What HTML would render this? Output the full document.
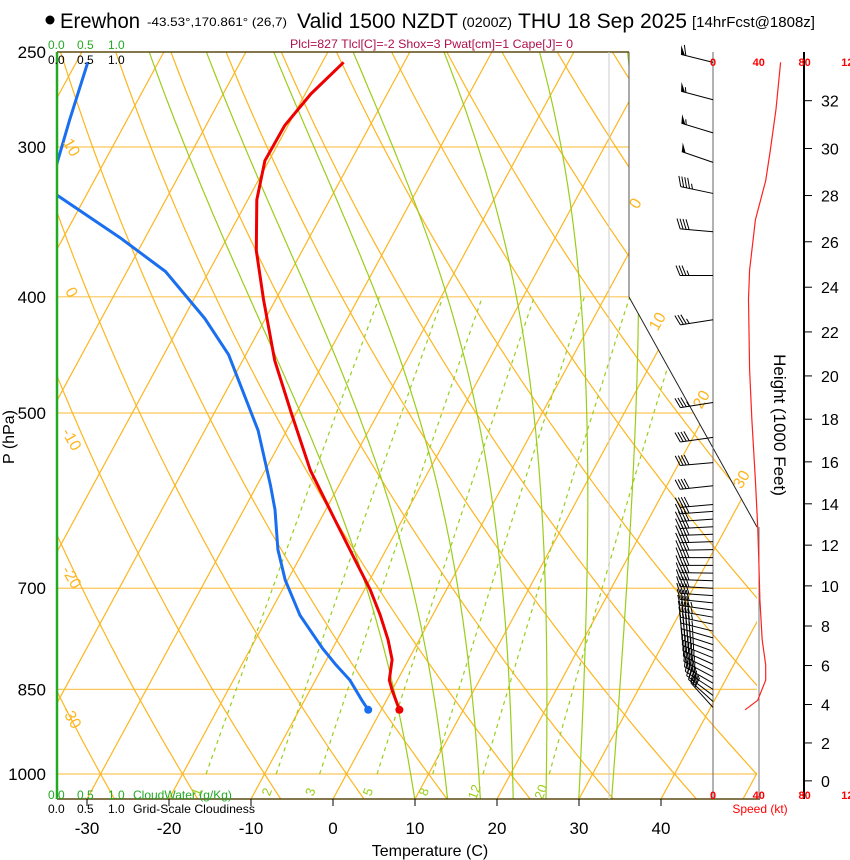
<!DOCTYPE html>
<html><head><meta charset="utf-8"><style>
html,body{margin:0;padding:0;background:#fff;overflow:hidden;}
svg{display:block;font-family:"Liberation Sans",sans-serif;}
</style></head><body>
<svg id="chart" width="850" height="860" viewBox="0 0 850 860" xmlns="http://www.w3.org/2000/svg">
<defs><clipPath id="plotclip"><polygon points="57,52 629,52 629,297 757,527 757,799 57,799"/></clipPath>
<clipPath id="plotclip2"><rect x="57" y="52" width="760" height="747"/></clipPath></defs>
<g>
<circle cx="50" cy="20" r="4.5" fill="#000"/>
<text x="60" y="28" font-size="21" textLength="80" lengthAdjust="spacingAndGlyphs">Erewhon</text>
<text x="147" y="26" font-size="12" textLength="140" lengthAdjust="spacingAndGlyphs">-43.53°,170.861° (26,7)</text>
<text x="297" y="28" font-size="21" textLength="161" lengthAdjust="spacingAndGlyphs">Valid 1500 NZDT</text>
<text x="462" y="27" font-size="14" textLength="50" lengthAdjust="spacingAndGlyphs">(0200Z)</text>
<text x="518" y="28" font-size="21" textLength="169" lengthAdjust="spacingAndGlyphs">THU 18 Sep 2025</text>
<text x="692" y="27" font-size="15" textLength="123" lengthAdjust="spacingAndGlyphs">[14hrFcst@1808z]</text>
<text x="290" y="48" font-size="12" fill="#b0104f" textLength="283" lengthAdjust="spacingAndGlyphs">Plcl=827 Tlcl[C]=-2 Shox=3 Pwat[cm]=1 Cape[J]= 0</text>
</g>
<g id="grid" clip-path="url(#plotclip)"></g>
<g id="profiles" clip-path="url(#plotclip2)"></g>
<g id="overlay"></g>
<g font-family="Liberation Sans, sans-serif">
<text x="48" y="49" font-size="12" fill="#22aa22">0.0</text>
<text x="77" y="49" font-size="12" fill="#22aa22">0.5</text>
<text x="108" y="49" font-size="12" fill="#22aa22">1.0</text>
<text x="48" y="64" font-size="12">0.0</text>
<text x="77" y="64" font-size="12">0.5</text>
<text x="108" y="64" font-size="12">1.0</text>
<text x="48" y="799" font-size="12" fill="#22aa22">0.0</text>
<text x="77" y="799" font-size="12" fill="#22aa22">0.5</text>
<text x="108" y="799" font-size="12" fill="#22aa22">1.0</text>
<text x="133" y="799" font-size="12" fill="#22aa22">CloudWater (g/Kg)</text>
<text x="48" y="813" font-size="12">0.0</text>
<text x="77" y="813" font-size="12">0.5</text>
<text x="108" y="813" font-size="12">1.0</text>
<text x="133" y="813" font-size="12" textLength="122" lengthAdjust="spacingAndGlyphs">Grid-Scale Cloudiness</text>
<text x="760" y="813" font-size="12" fill="#ff0000" text-anchor="middle">Speed (kt)</text>
<text x="430" y="856" font-size="16" text-anchor="middle">Temperature (C)</text>
<text x="0" y="0" font-size="16" text-anchor="middle" transform="translate(14,437) rotate(-90)">P (hPa)</text>
<text x="0" y="0" font-size="17" text-anchor="middle" transform="translate(774,425) rotate(90)">Height (1000 Feet)</text>
</g>
</svg>
<script>
// ---- data ----
const pressT=[884,851,835,803,773,737,702,663,614,558,500,452,402,366,332,308,288,271,255];
const tempT=[2.2,0.0,-1.0,-2.0,-3.8,-6.4,-9.3,-13.1,-18.2,-24.5,-30.6,-36.1,-41.5,-45.6,-48.9,-50.5,-50.4,-49.3,-47.4];
const pressTd=[884,868,835,811,785,737,689,650,602,574,517,447,417,381,357,329,320,311,285,255];
const dewTd=[-1.6,-3.0,-5.8,-8.5,-11.3,-16.2,-20.3,-23.2,-26.2,-28.4,-33.5,-42.1,-47.4,-55.3,-63.1,-73.6,-80,-75.6,-77.0,-78.6];
const spdP=[884,868,835,811,773,716,663,622,569,507,460,402,380,345,320,302,279,255];
const spdV=[28,39,46,46,43,41,40,39,37,34,32,31,32,37,46,50,55,59];
const barbP=[255,274,292,309,328,353,384,418,490,524,550,575,596,604,613,622,631,640,650,660,670,680,690,700,710,720,730,740,750,760,770,780,790,800,810,820,830,840,850,860,870,880];
const barbDir=[284,285,287,289,282,275,270,261,261,262,265,264,265,266,266,267,268,268,269,270,270,271,272,273,274,276,278,280,282,284,286,288,290,292,294,296,298,300,303,307,312,318];
const barbSpd=[60,55,55,50,45,40,35,35,35,40,40,40,40,40,40,40,40,40,40,41,41,41,41,41,42,42,43,43,44,45,45,46,46,46,46,46,45,45,44,42,38,30];
const tempTicks=[-30,-20,-10,0,10,20,30,40];
const pressTicks=[250,300,400,500,700,850,1000];
const heightTicks=[0,2,4,6,8,10,12,14,16,18,20,22,24,26,28,30,32];
const mixRatios=[1,2,3,5,8,12,20];
const moistStarts=[10,14,18,22,26,30,34];
const thetaLeftLabels=[10,0,-10,-20,-30];
const thetaRightLabels=[0,10,20,30];
const speedTicks=[0,40,80,120];

// ---- axes ----
const X0=333,S=8.2,SK=0.542,YB=799,Y1000=774,K=520.8;
function yP(p){return Y1000-K*Math.log(1000/p);}
function xTP(T,p){return X0+S*T+(YB-yP(p))*SK;}
function xSpd(v){return 713+v*1.145;}
function pFromH(hft){return 1013.25*Math.pow(1-6.8756e-6*hft,5.2559);}
const NS='http://www.w3.org/2000/svg';
function mk(tag,attrs,parent){const e=document.createElementNS(NS,tag);for(const k in attrs)e.setAttribute(k,attrs[k]);parent.appendChild(e);return e;}
const grid=document.getElementById('grid'),prof=document.getElementById('profiles'),ov=document.getElementById('overlay');
const OR='#fdb620',GR='#9acd1a';
function pts(arr){return arr.map(a=>a[0].toFixed(1)+','+a[1].toFixed(1)).join(' ');}

pressTicks.forEach(p=>{if(p===250)return;
 const l=mk('line',{x1:57,x2:760,y1:yP(p),y2:yP(p),stroke:'#fcc75a','stroke-width':1.2},grid);
 
 
});
for(let T=-110;T<=50;T+=10){
 const l=mk('line',{x1:xTP(T,1050),y1:yP(1050),x2:xTP(T,250),y2:yP(250),stroke:OR,'stroke-width':1.2},grid);
 
 
}
for(let th=233.15;th<=483.15;th+=10){
 const a=[];for(let p=1050;p>=250;p-=10){const T=th*Math.pow(p/1000,0.2857)-273.15;a.push([xTP(T,p),yP(p)]);}
 const l=mk('polyline',{points:pts(a),fill:'none',stroke:OR,'stroke-width':1.2},grid);
 
 
}
function es(T){return 6.112*Math.exp(17.67*T/(T+243.5));}
moistStarts.forEach(T0=>{
 let T=T0+273.15,a=[];const Rd=287,cp=1005,Lv=2.5e6,eps=0.622;
 for(let p=1050;p>=250;p-=2){
  a.push([xTP(T-273.15,p),yP(p)]);
  const e=es(T-273.15),rs=eps*e/(p-e);
  const dTdp=(Rd*T+Lv*rs)/(p*(cp+Lv*Lv*rs*eps/(Rd*T*T)));
  T-=2*dTdp;
 }
 const l=mk('polyline',{points:pts(a),fill:'none',stroke:GR,'stroke-width':1.2},grid);
 
 
});
function tdFromW(w,p){const e=w*p/(622+w);const L=Math.log(e/6.112);return 243.5*L/(17.67-L);}
mixRatios.forEach(w=>{
 const a=[];for(let p=1000;p>=400;p-=10)a.push([xTP(tdFromW(w,p),p),yP(p)]);
 const l=mk('polyline',{points:pts(a),fill:'none',stroke:GR,'stroke-width':1.2,'stroke-dasharray':'4,4'},grid);
 
 
 const p=1030,x=xTP(tdFromW(w,p),p),y=yP(p)+4;
 const t=mk('text',{x:x,y:y,'font-size':13,fill:GR,'text-anchor':'middle',transform:'rotate(-70 '+x+' '+y+')'},ov);
 t.textContent=w;
 
 
});
mk('line',{x1:57,y1:52,x2:629,y2:52,stroke:'#5b4a14','stroke-width':1.5,},ov);
mk('line',{x1:57,y1:799,x2:760,y2:799,stroke:'#5b4a14','stroke-width':1.5,},ov);
mk('line',{x1:629,y1:52,x2:629,y2:297,stroke:'#555','stroke-width':1,},ov);
mk('line',{x1:629,y1:297,x2:757,y2:527,stroke:'#222','stroke-width':1,},ov);
mk('line',{x1:759,y1:527,x2:759,y2:799,stroke:'#777','stroke-width':1,},ov);
mk('line',{x1:713,y1:52,x2:713,y2:799,stroke:'#666','stroke-width':1,},ov);
mk('line',{x1:609,y1:52,x2:609,y2:799,stroke:'#ccc','stroke-width':1,},ov);
mk('line',{x1:57,y1:52,x2:57,y2:799,stroke:'#22aa22','stroke-width':2.5,},ov);
function thLabel(v,x,y,rot,name){const t=mk('text',{x:x,y:y,'font-size':16,fill:OR,'text-anchor':'middle',transform:'rotate('+rot+' '+x+' '+y+')'},ov);t.textContent=v;
 
 }
[150,295,442,580,720].forEach((y,i)=>thLabel(thetaLeftLabels[i],67,y,60,'theta-label-left'));
[[640,206],[662,324],[706,402],[746,482]].forEach((a,i)=>thLabel(thetaRightLabels[i],a[0],a[1],-60,'theta-label-right'));
const tl=mk('polyline',{points:pts(pressT.map((p,i)=>[xTP(tempT[i],p),yP(p)])),fill:'none',stroke:'#ee0000','stroke-width':3,'stroke-linejoin':'round'},prof);


const dl=mk('polyline',{points:pts(pressTd.map((p,i)=>[xTP(dewTd[i],p),yP(p)])),fill:'none',stroke:'#1a6ff0','stroke-width':3,'stroke-linejoin':'round'},prof);


const tm=mk('circle',{cx:xTP(tempT[0],pressT[0]),cy:yP(pressT[0]),r:4,fill:'#ee0000'},ov);


const dm=mk('circle',{cx:xTP(dewTd[0],pressTd[0]),cy:yP(pressTd[0]),r:4,fill:'#1a6ff0'},ov);


const sl=mk('polyline',{points:pts(spdP.map((p,i)=>[xSpd(spdV[i]),yP(p)])),fill:'none',stroke:'#ff2020','stroke-width':1.2},ov);


barbP.forEach((p,i)=>{
 const g=mk('g',{},ov);
 
 
 const d=barbDir[i]*Math.PI/180,ux=Math.sin(d),uy=-Math.cos(d),px=-uy,py=ux;
 const bx=713,by=yP(p),L=33,tx=bx+ux*L,ty=by+uy*L;
 mk('line',{x1:bx,y1:by,x2:tx,y2:ty,stroke:'#000','stroke-width':1},g);
 let s=Math.round(barbSpd[i]/5)*5,pos=0;
 while(s>=50){const ax=tx-ux*pos,ay=ty-uy*pos;mk('polygon',{points:pts([[ax,ay],[ax+px*9+ux*2,ay+py*9+uy*2],[ax-ux*4,ay-uy*4]]),fill:'#000'},g);pos+=5;s-=50;}
 while(s>=10){const ax=tx-ux*pos,ay=ty-uy*pos;mk('line',{x1:ax,y1:ay,x2:ax+px*10+ux*4,y2:ay+py*10+uy*4,stroke:'#000','stroke-width':1},g);pos+=3;s-=10;}
 if(s>=5){const ax=tx-ux*pos,ay=ty-uy*pos;mk('line',{x1:ax,y1:ay,x2:ax+px*5+ux*2,y2:ay+py*5+uy*2,stroke:'#000','stroke-width':1},g);}
});
pressTicks.forEach(p=>{const t=mk('text',{x:46,y:yP(p)+6,'font-size':17,'text-anchor':'end'},ov);t.textContent=p;
 
 });
tempTicks.forEach(T=>{const x=X0+S*T;
 mk('line',{x1:x,y1:799,x2:x,y2:806,stroke:'#000','stroke-width':1},ov);
 const t=mk('text',{x:x,y:834,'font-size':17,'text-anchor':'middle'},ov);t.textContent=T;
 
 });
mk('line',{x1:804,y1:52,x2:804,y2:799,stroke:'#000','stroke-width':2,},ov);
heightTicks.forEach(h=>{const y=yP(pFromH(h*1000));
 mk('line',{x1:804,y1:y,x2:812,y2:y,stroke:'#000','stroke-width':1},ov);
 const t=mk('text',{x:821,y:y+6,'font-size':16},ov);t.textContent=h;
 
 });
speedTicks.forEach(v=>{[66,799].forEach(y=>{const t=mk('text',{x:xSpd(v),y:y,'font-size':11,'font-weight':'bold',fill:'#ff0000','text-anchor':'middle'},ov);t.textContent=v;
 
 });});
</script>
</body></html>
